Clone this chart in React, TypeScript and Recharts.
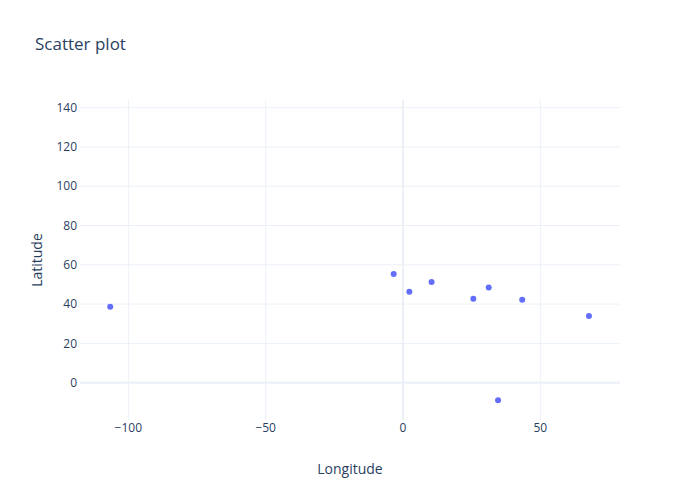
import { ScatterChart, Scatter, XAxis, YAxis, ReferenceLine } from "recharts";

const longitudes = [-106.6, -3.4, 2.3, 10.4, 25.6, 31.2, 43.4, 67.7, 34.6];
const latitudes = [38.7, 55.3, 46.3, 51.2, 42.7, 48.4, 42.2, 33.9, -9.0];
const xTicks = [-100, -50, 0, 50];
const yTicks = [0, 20, 40, 60, 80, 100, 120, 140];

const data = longitudes.map((lon, i) => ({ lon, lat: latitudes[i] }));

const fontColor = "#2a3f5f";
const gridColor = "#EBF0F8";
const font = '"Open Sans", sans-serif';

const minus = (v: number) => String(v).replace("-", "\u2212");

export default function App() {
  return (
    <div style={{ position: "relative", width: 700, height: 500, fontFamily: font }}>
      <style>{"body{margin:0}"}</style>
      <div
        style={{
          position: "absolute",
          left: 35,
          top: 32,
          fontSize: 17,
          color: fontColor,
          lineHeight: "23px",
        }}
      >
        Scatter plot
      </div>
      <ScatterChart width={700} height={500} margin={{ top: 100, right: 80, bottom: 20, left: 30 }}>
        <XAxis
          type="number"
          dataKey="lon"
          domain={[-117.6, 79]}
          ticks={xTicks}
          allowDataOverflow
          axisLine={false}
          tickLine={false}
          tickSize={0}
          tickMargin={3}
          height={60}
          tickFormatter={minus}
          tick={{ fill: fontColor, fontSize: 12, fontFamily: font }}
          label={{
            value: "Longitude",
            position: "insideBottom",
            offset: 6,
            style: { fill: fontColor, fontSize: 14, fontFamily: font },
          }}
        />
        <YAxis
          type="number"
          dataKey="lat"
          domain={[-19, 143.9]}
          ticks={yTicks}
          allowDataOverflow
          axisLine={false}
          tickLine={false}
          tickSize={0}
          tickMargin={3}
          width={50}
          tickFormatter={minus}
          tick={{ fill: fontColor, fontSize: 12, fontFamily: font }}
          label={{
            value: "Latitude",
            angle: -90,
            position: "insideLeft",
            offset: 7,
            style: { fill: fontColor, fontSize: 14, fontFamily: font, textAnchor: "middle" },
          }}
        />
        {xTicks.map((t) => (
          <ReferenceLine key={"x" + t} x={t} stroke={gridColor} strokeWidth={t === 0 ? 2 : 1} />
        ))}
        {yTicks.map((t) => (
          <ReferenceLine key={"y" + t} y={t} stroke={gridColor} strokeWidth={t === 0 ? 2 : 1} />
        ))}
        <Scatter
          data={data}
          fill="#636efa"
          isAnimationActive={false}
          shape={(p: any) => <circle cx={p.cx} cy={p.cy} r={3} fill="#636efa" />}
        />
      </ScatterChart>
    </div>
  );
}
